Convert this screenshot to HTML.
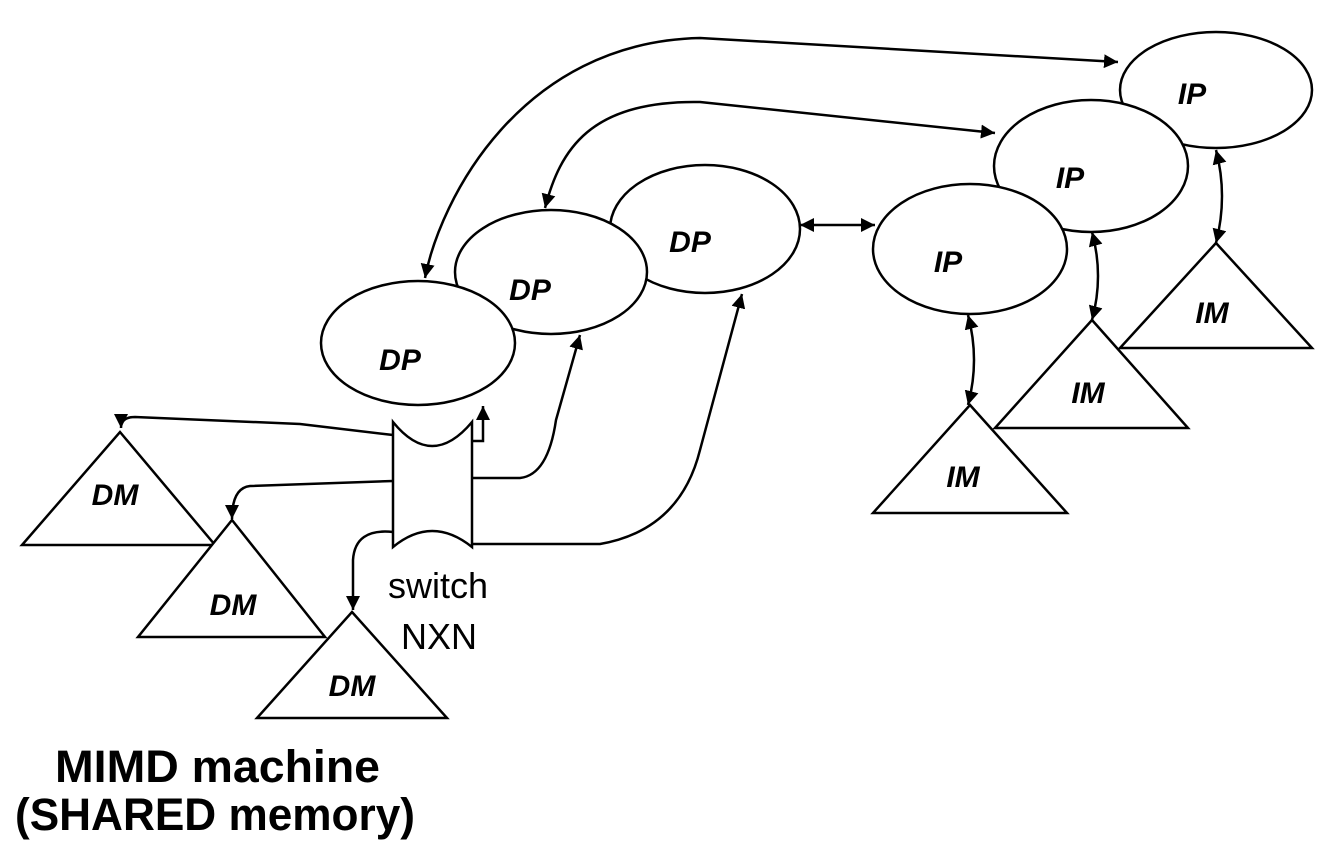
<!DOCTYPE html>
<html><head><meta charset="utf-8"><style>
html,body{margin:0;padding:0;background:#fff;}
svg{display:block}
</style></head><body>
<svg width="1322" height="850" viewBox="0 0 1322 850" xmlns="http://www.w3.org/2000/svg">
<defs>
<marker id="a" viewBox="0 0 10 10" refX="10" refY="5" markerWidth="14" markerHeight="14" markerUnits="userSpaceOnUse" orient="auto-start-reverse">
<path d="M0,0 L10,5 L0,10 z" fill="#000"/>
</marker>
</defs>
<g fill="none" stroke="#000" stroke-width="2.5">
<path d="M425,278 C440,200 520,42 700,38 L1118,62" marker-start="url(#a)" marker-end="url(#a)"/>
<path d="M545,208 C560,150 590,100 700,102 L995,133" marker-start="url(#a)" marker-end="url(#a)"/>
</g>
<g fill="#fff" stroke="#000" stroke-width="2.5">
<ellipse cx="1216" cy="90" rx="96" ry="58"/>
<ellipse cx="1091" cy="166" rx="97" ry="66"/>
<ellipse cx="970" cy="249" rx="97" ry="65"/>
<ellipse cx="705" cy="229" rx="95" ry="64"/>
<ellipse cx="551" cy="272" rx="96" ry="62"/>
<ellipse cx="418" cy="343" rx="97" ry="62"/>
<path d="M1216,243 L1312,348 L1120,348 z"/>
<path d="M1092,320 L1188,428 L995,428 z"/>
<path d="M970,405 L1067,513 L873,513 z"/>
<path d="M120,432 L215,545 L22,545 z"/>
<path d="M232,520 L325,637 L138,637 z"/>
<path d="M352,612 L447,718 L257,718 z"/>
<path d="M393,422 L393,547 Q432,515 472,547 L472,422 Q432,470 393,422 z"/>
</g>
<g fill="none" stroke="#000" stroke-width="2.5">
<path d="M393,435 L300,424 L135,417 Q121,417 121,428" marker-end="url(#a)"/>
<path d="M393,481 L250,486 Q232,488 232,519" marker-end="url(#a)"/>
<path d="M393,532 Q355,528 353,560 L353,610" marker-end="url(#a)"/>
<path d="M472,441 L483,441 L483,406" marker-end="url(#a)"/>
<path d="M472,478 L520,478 Q548,475 556,420 L580,335" marker-end="url(#a)"/>
<path d="M472,544 L600,544 Q680,530 700,450 L742,294" marker-end="url(#a)"/>
<path d="M800,225 L875,225" marker-start="url(#a)" marker-end="url(#a)"/>
<path d="M968,315 Q980,360 968,405" marker-start="url(#a)" marker-end="url(#a)"/>
<path d="M1092,232 Q1104,276 1092,320" marker-start="url(#a)" marker-end="url(#a)"/>
<path d="M1216,150 Q1228,196 1216,243" marker-start="url(#a)" marker-end="url(#a)"/>
</g>
<g font-family="Liberation Sans, sans-serif" font-weight="bold" font-style="italic" font-size="30" text-anchor="middle">
<text x="400" y="370">DP</text>
<text x="530" y="300">DP</text>
<text x="690" y="252">DP</text>
<text x="948" y="272">IP</text>
<text x="1070" y="188">IP</text>
<text x="1192" y="104">IP</text>
<text x="963" y="487">IM</text>
<text x="1088" y="403">IM</text>
<text x="1212" y="323">IM</text>
<text x="115" y="505">DM</text>
<text x="233" y="615">DM</text>
<text x="352" y="696">DM</text>
</g>
<g font-family="Liberation Sans, sans-serif" font-size="36" text-anchor="middle">
<text x="438" y="598">switch</text>
<text x="439" y="649">NXN</text>
</g>
<g font-family="Liberation Sans, sans-serif" font-weight="bold" font-size="45">
<text x="55" y="782" textLength="325" lengthAdjust="spacingAndGlyphs">MIMD machine</text>
<text x="15" y="830" textLength="400" lengthAdjust="spacingAndGlyphs">(SHARED memory)</text>
</g>
</svg>
</body></html>
